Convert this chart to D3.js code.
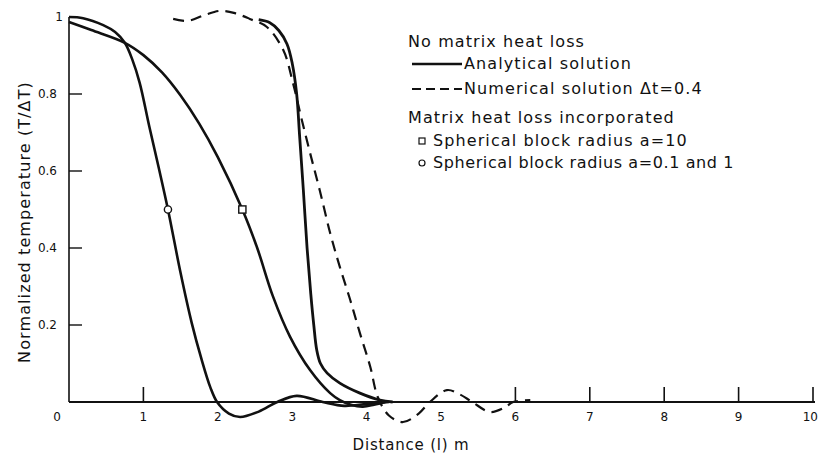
<!DOCTYPE html>
<html>
<head>
<meta charset="utf-8">
<script src="https://cdn.jsdelivr.net/npm/d3@7"></script>
<style>
    body { margin: 0; background: #fff; }
    text { font-family: "DejaVu Sans", sans-serif; fill: #111; }
</style>
</head>
<body>
<div id="chart-area"></div>
<script>
/*
*    Normalized temperature vs distance
*/

// analytical solution, no matrix heat loss
const analyticalX = [2.55, 2.70, 2.82, 2.93, 3.00, 3.06, 3.10, 3.15, 3.20, 3.25, 3.29, 3.33, 3.38, 3.47, 3.64, 3.91, 4.18, 4.35];
const analyticalY = [0.993, 0.985, 0.965, 0.930, 0.880, 0.800, 0.690, 0.550, 0.400, 0.280, 0.200, 0.135, 0.100, 0.075, 0.049, 0.023, 0.005, 0];

// numerical solution dt=0.4
const numericalX = [1.40, 1.60, 1.82, 2.03, 2.23, 2.43, 2.66, 2.88, 3.01, 3.12, 3.24, 3.37, 3.51, 3.64, 3.78, 3.91, 4.05, 4.15, 4.30, 4.49, 4.70, 4.85, 5.08, 5.25, 5.42, 5.66, 5.85, 5.97, 6.20];
const numericalY = [0.995, 0.990, 1.005, 1.016, 1.010, 0.995, 0.974, 0.914, 0.829, 0.740, 0.647, 0.550, 0.439, 0.351, 0.265, 0.179, 0.091, 0.013, -0.035, -0.052, -0.030, 0, 0.031, 0.020, 0, -0.026, -0.015, 0, 0.005];

// spherical block radius a=0.1 and 1
const smallBlockX = [0, 0.19, 0.46, 0.62, 0.75, 0.85, 0.95, 1.08, 1.21, 1.33, 1.50, 1.65, 1.78, 1.90, 1.99, 2.15, 2.30, 2.55, 2.80, 3.06, 3.41, 3.70, 4.00, 4.30];
const smallBlockY = [1.0, 0.997, 0.979, 0.961, 0.933, 0.890, 0.829, 0.715, 0.605, 0.500, 0.335, 0.205, 0.112, 0.038, 0, -0.030, -0.039, -0.025, 0, 0.016, 0, -0.010, -0.005, 0];

// spherical block radius a=10
const bigBlockX = [0, 0.30, 0.75, 1.00, 1.25, 1.50, 1.75, 2.00, 2.33, 2.53, 2.74, 2.97, 3.24, 3.51, 3.64, 3.80, 3.95, 4.10, 4.25];
const bigBlockY = [0.987, 0.966, 0.933, 0.901, 0.856, 0.796, 0.723, 0.636, 0.500, 0.400, 0.275, 0.170, 0.083, 0.023, 0.005, -0.008, -0.012, -0.007, 0];

// marker positions
const circleMark = [1.33, 0.5];
const squareMark = [2.33, 0.5];

// ticks
const xTickLabels = [0, 1, 2, 3, 4, 5, 6, 7, 8, 9, 10];
const xTickMarks = [1, 6, 7, 8, 9, 10];
const yTickLabels = [0.2, 0.4, 0.6, 0.8, 1];
const yTickMarks = [0.2, 0.4, 0.6, 0.8];

// legend
const legendLines = [
    {kind: "head", text: "No matrix heat loss"},
    {kind: "solid", text: "Analytical solution"},
    {kind: "dash", text: "Numerical solution \u0394t=0.4"},
    {kind: "head", text: "Matrix heat loss incorporated"},
    {kind: "square", text: "Spherical block radius a=10"},
    {kind: "circle", text: "Spherical block radius a=0.1 and 1"}
];
const legendY = [42, 64, 89, 118, 141, 163];

const width = 819, height = 455;

const svg = d3.select("#chart-area")
    .append("svg")
        .attr("width", width)
        .attr("height", height);

//Scales
const x = d3.scaleLinear().domain([0, 10]).range([69, 813]);
const y = d3.scaleLinear().domain([0, 1]).range([402, 17]);

// AXES
svg.append("line")
    .attr("x1", x(0)).attr("x2", x(0))
    .attr("y1", y(0)).attr("y2", y(1))
    .attr("stroke", "#111").attr("stroke-width", 1.6);

svg.append("line")
    .attr("x1", x(0)).attr("x2", x(10) + 2)
    .attr("y1", y(0)).attr("y2", y(0))
    .attr("stroke", "#111").attr("stroke-width", 2.2);

svg.selectAll(".xtick").data(xTickMarks).enter()
    .append("line")
    .attr("x1", d => x(d)).attr("x2", d => x(d))
    .attr("y1", y(0)).attr("y2", y(0) - 15)
    .attr("stroke", "#111").attr("stroke-width", 1.6);

svg.selectAll(".ytick").data(yTickMarks).enter()
    .append("line")
    .attr("x1", x(0)).attr("x2", x(0) + 13)
    .attr("y1", d => y(d)).attr("y2", d => y(d))
    .attr("stroke", "#111").attr("stroke-width", 1.4);

svg.selectAll(".xlab").data(xTickLabels).enter()
    .append("text")
    .attr("x", d => d === 0 ? x(0) - 12 : (d === 10 ? 818 : x(d)))
    .attr("y", 421)
    .attr("font-size", "12px")
    .attr("text-anchor", d => d === 10 ? "end" : "middle")
    .text(d => d);

svg.selectAll(".ylab").data(yTickLabels).enter()
    .append("text")
    .attr("x", d => d === 1 ? 63 : 57)
    .attr("y", d => y(d) + 4)
    .attr("font-size", "12px")
    .attr("text-anchor", "end")
    .text(d => d === 1 ? "1" : d3.format(".1f")(d));

//LABELS
svg.append("text")
    .attr("x", 411)
    .attr("y", 450)
    .attr("font-size", "15px")
    .attr("letter-spacing", "0.8px")
    .attr("text-anchor", "middle")
    .text("Distance (l) m");

svg.append("text")
    .attr("transform", "translate(30,222) rotate(-90)")
    .attr("font-size", "16px")
    .attr("letter-spacing", "1.1px")
    .attr("text-anchor", "middle")
    .text("Normalized  temperature  (T/\u0394T)");

// CURVES
const line = d3.line()
    .x(d => x(d[0]))
    .y(d => y(d[1]))
    .curve(d3.curveCatmullRom.alpha(0.5));

function pairs(xs, ys) {
    return xs.map((v, i) => [v, ys[i]]);
}

svg.append("path")
    .attr("d", line(pairs(smallBlockX, smallBlockY)))
    .attr("fill", "none").attr("stroke", "#111").attr("stroke-width", 2.6);

svg.append("path")
    .attr("d", line(pairs(bigBlockX, bigBlockY)))
    .attr("fill", "none").attr("stroke", "#111").attr("stroke-width", 2.6);

svg.append("path")
    .attr("d", line(pairs(analyticalX, analyticalY)))
    .attr("fill", "none").attr("stroke", "#111").attr("stroke-width", 2.8);

svg.append("path")
    .attr("d", line(pairs(numericalX, numericalY)))
    .attr("fill", "none").attr("stroke", "#111").attr("stroke-width", 2.2)
    .attr("stroke-dasharray", "11,7");

// markers
svg.append("circle")
    .attr("cx", x(circleMark[0])).attr("cy", y(circleMark[1]))
    .attr("r", 3.6)
    .attr("fill", "#fff").attr("stroke", "#111").attr("stroke-width", 1.4);

svg.append("rect")
    .attr("x", x(squareMark[0]) - 3.6).attr("y", y(squareMark[1]) - 3.6)
    .attr("width", 7.2).attr("height", 7.2)
    .attr("fill", "#fff").attr("stroke", "#111").attr("stroke-width", 1.4);

// LEGEND
const legend = svg.append("g");

legendLines.forEach(function(item, i){
    let ly = legendY[i];
    let tx = 408;
    if (item.kind === "solid" || item.kind === "dash") {
        legend.append("line")
            .attr("x1", 412).attr("x2", 462)
            .attr("y1", ly).attr("y2", ly)
            .attr("stroke", "#111")
            .attr("stroke-width", item.kind === "solid" ? 2.6 : 1.8)
            .attr("stroke-dasharray", item.kind === "dash" ? "9,5" : null);
        tx = 464;
    }
    if (item.kind === "square") {
        legend.append("rect")
            .attr("x", 419).attr("y", ly - 3)
            .attr("width", 6).attr("height", 6)
            .attr("fill", "#fff").attr("stroke", "#111").attr("stroke-width", 1.2);
        tx = 433;
    }
    if (item.kind === "circle") {
        legend.append("circle")
            .attr("cx", 422).attr("cy", ly)
            .attr("r", 3)
            .attr("fill", "#fff").attr("stroke", "#111").attr("stroke-width", 1.2);
        tx = 433;
    }
    legend.append("text")
        .attr("x", tx)
        .attr("y", ly + 5)
        .attr("font-size", "16px")
        .attr("letter-spacing", item.kind === "circle" ? "0.6px" : "1.1px")
        .text(item.text);
});
</script>
</body>
</html>
